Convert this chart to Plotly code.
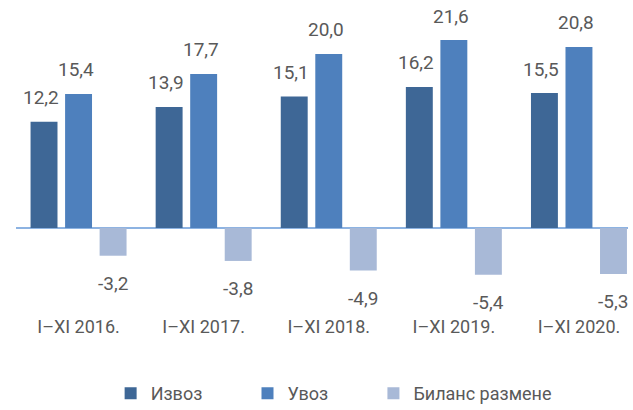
import plotly.graph_objects as go

categories = ["I–XI 2016.", "I–XI 2017.", "I–XI 2018.", "I–XI 2019.", "I–XI 2020."]
izvoz = [12.2, 13.9, 15.1, 16.2, 15.5]
uvoz = [15.4, 17.7, 20.0, 21.6, 20.8]
bilans = [-3.2, -3.8, -4.9, -5.4, -5.3]
series_names = ["Извоз", "Увоз", "Биланс размене"]

colors = ["#3E6796", "#4E80BD", "#A8B9D7"]
FONT = "Roboto, sans-serif"
TXT = "#595959"
NB = "\u00a0"
legend_pad = [NB * 9, NB * 9, ""]

fig = go.Figure()
all_series = [izvoz, uvoz, bilans]
for name, pad, vals, col in zip(series_names, legend_pad, all_series, colors):
    fig.add_trace(go.Bar(x=categories, y=vals, name=name + pad, marker_color=col,
                         marker_line_width=0, hoverinfo="skip"))

offsets = [-34.5, 0, 34.5]
annotations = []
for vals, off in zip(all_series, offsets):
    for c, v in zip(categories, vals):
        pos = v >= 0
        annotations.append(dict(
            x=c, y=v, xref="x", yref="y",
            text=f"{v:.1f}".replace(".", ","),
            showarrow=False,
            xshift=off - (3 if pos else 0),
            yshift=24 if pos else -28,
            yanchor="middle", xanchor="center",
            font=dict(family=FONT, size=19, color=TXT),
        ))

fig.update_layout(
    width=633, height=410,
    margin=dict(l=16, r=5, t=20, b=102),
    plot_bgcolor="white", paper_bgcolor="white",
    barmode="group", bargap=0.172, bargroupgap=0.22,
    annotations=annotations,
    font=dict(family=FONT, size=18, color=TXT),
    showlegend=True,
    legend=dict(orientation="h", x=0.519, xanchor="center",
                yref="container", y=0.04, yanchor="middle",
                font=dict(family=FONT, size=18, color=TXT),
                traceorder="normal"),
    xaxis=dict(range=[-0.5, 4.392], showgrid=False, showline=False, ticks="",
               automargin=False,
               tickfont=dict(family=FONT, size=18, color=TXT), ticklabelstandoff=6),
    yaxis=dict(range=[-9.21, 23.90], showgrid=False, showticklabels=False,
               automargin=False,
               zeroline=True, zerolinecolor="#8DB3E2", zerolinewidth=2, showline=False),
)

fig.write_html("out.html", config={"displayModeBar": False},
               post_script="document.body.style.margin='0';document.body.style.overflow='hidden';")
